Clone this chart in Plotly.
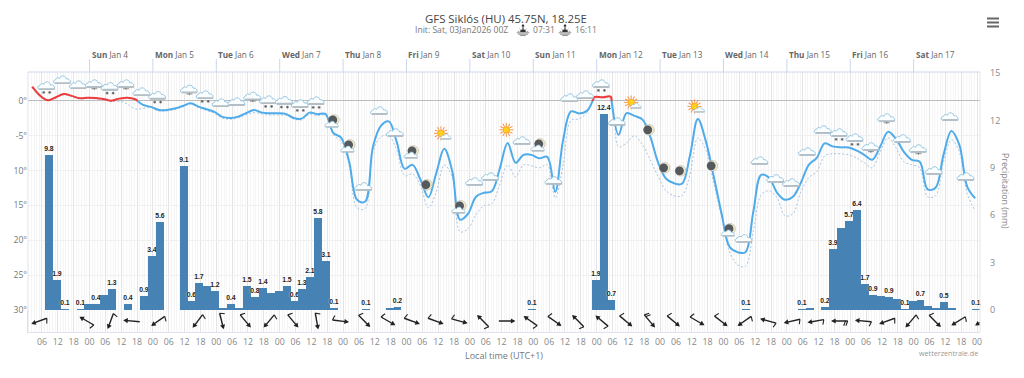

from urllib.parse import quote
import pandas as pd
import plotly.graph_objects as go

TITLE = "GFS Siklós (HU) 45.75N, 18.25E"
INIT_TEXT = "Init: Sat, 03Jan2026 00Z"
SUNRISE = "07:31"
SUNSET = "16:11"
DAY_TICKS = ["2026-01-%02d" % d for d in range(4, 18)]
DAY_NAMES = ["Sun", "Mon", "Tue", "Wed", "Thu", "Fri", "Sat", "Sun", "Mon", "Tue", "Wed", "Thu", "Fri", "Sat"]

temperature = [2.05,.76,.1,.53,1.0,.72,.39,.47,.43,.29,.04,.33,.47,.24,
 -.57,-.86,-1.29,-1.29,-1.1,-.72,-.33,-.82,-1.19,-1.58,-2.29,-2.44,-2.25,-1.76,-1.29,-1.68,-1.76,-1.76,-1.86,-2.44,-2.54,-1.68,-1.9,-1.86,
 -4.58,-5.3,-8.74,-14.18,-14.47,-6.59,-3.58,-2.94,-5.87,-9.74,-9.17,-11.32,-13.83,-10.32,-6.88,-10.03,-17.05,-16.19,-13.75,-13.18,-12.97,-9.74,-6.02,-8.88,-7.74,-7.74,-8.24,-8.02,-13.04,-5.59,
 -1.5,-1.79,-1.43,.57,.53,.62,-4.87,-1.76,-2.15,-2.65,-5.16,-8.88,-11.17,-11.82,-11.89,-7.88,-2.58,-5.73,-10.82,-16.19,-20.92,-21.7,-21.7,-15.9,-10.6,-11.03,
 -13.18,-14.18,-13.75,-11.75,-9.17,-8.17,-6.09,-6.52,-6.66,-6.69,-7.09,-7.74,-8.45,-6.59,-4.44,-5.44,-7.31,-8.45,-8.74,-12.68,-12.46,-7.74,-4.3,-6.3,-12.32,-13.97]

dew_point = [1.9,.64,.03,.43,.89,.6,.29,.33,.29,.14,-.07,-.07,-.43,-1.15,-1.07,-.93,-1.43,-1.43,-1.22,-.86,-.43,-1,-1.36,-1.79,-2.48,-2.62,-2.44,-2.01,-1.68,-1.86,-2.01,-2.01,-2.08,-2.58,-2.72,-1.93,-2.08,-2.08,
 -4.87,-5.87,-9.17,-15.33,-15.47,-7.31,-5.16,-5.01,-7.02,-10.74,-10.46,-12.18,-15.33,-13.04,-9.17,-10.89,-18.77,-18.34,-16.33,-15.04,-14.76,-12.03,-9.17,-10.89,-9.17,-9.31,-9.6,-9.17,-13.9,-9.17,
 -2.79,-2.58,-1.72,.29,.43,.29,-6.59,-6.02,-5.01,-6.3,-8.45,-10.89,-12.89,-13.61,-13.61,-10.6,-5.3,-7.02,-11.75,-16.62,-21.63,-23.5,-23.74,-18.77,-13.47,-12.89,
 -13.9,-16.48,-16.19,-13.04,-11.03,-10.17,-7.88,-7.59,-7.59,-7.74,-8.17,-8.88,-9.6,-7.31,-5.3,-6.73,-8.74,-9.17,-9.6,-13.75,-13.61,-8.74,-5.59,-7.31,-13.32,-15.76]

precip = [9.8,1.9,.05,0,.05,.35,.4,.95,1.3,0,.35,0,.9,3.4,5.6,0,0,9.1,.6,1.7,1.5,1.2,.1,.4,.1,1.5,.8,1.4,1.1,1.2,1.5,.6,1.3,2.1,5.8,3.1,.1,
 0,0,0,.05,0,0,.1,.2,0,0,0,0,0,0,0,0,0,0,0,0,0,0,0,0,.05,0,0,0,0,0,0,0,1.9,12.4,.65,
 0,0,0,0,0,0,0,0,0,0,0,0,0,0,0,0,.05,0,0,0,0,0,0,.05,.1,0,.2,3.85,5.2,5.65,6.35,1.67,.93,.9,.85,.7,.05,.55,.65,.25,.15,.5,.1,0,0,.05]
precip_labels = ["9.8","1.9","0.1","","0.1","","0.4","","1.3","","0.4","","0.9","3.4","5.6","","","9.1","0.6","1.7","","1.2","","0.4","","1.5","0.8","1.4","","","1.5","0.6","1.3","2.1","5.8","3.1","0.1",
 "","","","0.1","","","","0.2","","","","","","","","","","","","","","","","","0.1","","","","","","","","1.9","12.4","0.7",
 "","","","","","","","","","","","","","","","","0.1","","","","","","","0.1","","","0.2","3.9","","5.7","6.4","1.7","0.9","","0.9","","0.1","","0.7","","","0.5","","","","0.1"]

icon_kinds = ["snow","cloud","cloud","light","snow","light","cloud","snow",None,"light","snow","cloud","cloud","light","snow","snow","snow","snow",
 "mooncloud","mooncloud","cloud","cloud","cloud","mooncloud","moon","suncloud","mooncloud","cloud","cloud","sun","cloud","mooncloud","cloud","cloud","cloud","snow","cloud","suncloud",
 "moon","moon","moon","suncloud","moon","mooncloud","cloud","cloud","cloud","cloud","cloud","cloud","snow","snow","light","light","cloud","light","cloud","cloud","cloud"]
icon_levels = [2.15,3.0,2.29,2.44,2.05,2.44,1.29,.76,None,1.68,.86,-.29,-.14,.67,.14,.04,-.43,0,
 -3.3,-6.88,-12.32,-1.43,-4.58,-7.74,-12.03,-4.87,-15.62,-11.6,-10.89,-4.15,-5.73,-6.73,-11.46,.43,.86,2.44,-3.0,-.43,
 -4.15,-9.6,-10.03,-1.0,-9.31,-18.91,-19.77,-8.6,-11.17,-11.75,-7.31,-4.15,-4.58,-5.3,-6.59,-2.44,-5.44,-6.88,-10.03,-2.29,-10.89]

wind_hours = [-19, -1, 8, 16, 26] + list(range(41, 339, 9))
wind_heading = [250,300,200,275,235,217,166,140,220,140,170,97,135,120,110,110,105,315,90,305,125,315,310,130,140,130,120,128,235,285,257,260,270,275,250,220,135,238,238]
wind_barbs = [1,1,1,0,1,1,1,1,1,1,1,1,1,1,1,1,1,1,0,1,1,1,1,1,2,1,1,1,1,1,1,1,2,1,1,1,1,1,1]

W, H = 1024, 378
ML, MR, MT, MB = 28, 44, 72, 46
PLOT_W = W - ML - MR
PLOT_H = H - MT - MB
STRIP_PX = 22
X0 = pd.Timestamp("2026-01-03 00:43")
X1 = pd.Timestamp("2026-01-18 01:07")
TEMP_TOP = 4.15
TEMP_BOTTOM = -30
PRECIP_TOP = 15.06
HOUR_PX = PLOT_W / ((X1 - X0).total_seconds() / 3600)
TEMP_PX = (PLOT_H - STRIP_PX) / (TEMP_TOP - TEMP_BOTTOM)

FONT = "Open Sans"
BLUE = "#4fabe9"
RED = "#ee3b3b"
DEW = "#a9c4e0"
BAR = "#4682b4"

temp_times = pd.date_range("2026-01-03 02:18", periods=len(temperature), freq="3h")
bar_times = pd.date_range("2026-01-03 08:36", periods=len(precip), freq="3h")
icon_times = pd.date_range("2026-01-03 07:48", periods=len(icon_kinds), freq="6h")


def cloud(cx, cy, s=1.0):
    return (f'<g transform="translate({cx} {cy}) scale({s})">'
            '<path d="M-7.5 3.4 C-9.5 3.2 -9.5 -0.2 -6.8 -0.4 C-6.6 -2.4 -3.8 -2.8 -2.8 -1.6 '
            'C-2 -5 3.2 -5 3.8 -1 C6 -1.6 8.6 0.2 7.6 3.4 Z" fill="#fbfeff" stroke="#8cc0dc" stroke-width="0.9"/>'
            '<rect x="-7.8" y="2.2" width="15.6" height="1.8" rx="0.9" fill="#b4bec4"/></g>')


def flakes(points):
    out = ""
    for x, y in points:
        out += (f'<path d="M{x-1.4} {y}H{x+1.4}M{x} {y-1.4}V{y+1.4}M{x-1} {y-1}L{x+1} {y+1}M{x-1} {y+1}L{x+1} {y-1}" '
                'stroke="#555" stroke-width="0.7"/>')
    return out


def moon(cx, cy):
    return (f'<circle cx="{cx}" cy="{cy}" r="5.3" fill="#efe9c8" stroke="#aaa" stroke-width="0.5"/>'
            f'<circle cx="{cx-1.2}" cy="{cy}" r="4.4" fill="#55585c"/>')


def sun(cx, cy, r=7.0):
    rays = "".join(
        f'<line x1="{cx}" y1="{cy-r*0.55}" x2="{cx}" y2="{cy-r}" stroke="#f58a3c" stroke-width="0.9" '
        f'transform="rotate({a} {cx} {cy})"/>' for a in range(0, 360, 30))
    return rays + f'<circle cx="{cx}" cy="{cy}" r="{r*0.48}" fill="#ffd21a" stroke="#f7902f" stroke-width="0.8"/>'


def icon_svg(kind):
    c = 14
    body = {
        "cloud": cloud(c, c),
        "light": cloud(c, c) + f'<path d="M{c-3} {c+4.8}H{c+3}M{c} {c+4}V{c+6}" stroke="#666" stroke-width="0.7"/>',
        "snow": cloud(c, c) + flakes([(c - 3, c + 6.5), (c + 3, c + 6.5)]),
        "moon": moon(c, c),
        "mooncloud": moon(c + 2, c - 4) + cloud(c, c + 0.5, 0.8),
        "sun": sun(c, c),
        "suncloud": sun(c - 2, c - 1.5) + cloud(c + 3, c + 2, 0.65),
    }[kind]
    return ('data:image/svg+xml,' + quote(
        f'<svg xmlns="http://www.w3.org/2000/svg" width="28" height="28" viewBox="0 0 28 28">{body}</svg>'))


def barb_svg(heading, barbs):
    c = 14
    parts = ['<line x1="14" y1="22" x2="14" y2="7" stroke="#222" stroke-width="1.4"/>',
             '<path d="M14 5.4 L16.6 10 L11.4 10 Z" fill="#222"/>']
    for n in range(barbs):
        y = 22 - 2.2 * n
        parts.append(f'<line x1="14" y1="{y}" x2="9.2" y2="{y-1.8}" stroke="#222" stroke-width="1.1"/>')
    return ('data:image/svg+xml,' + quote(
        f'<svg xmlns="http://www.w3.org/2000/svg" width="28" height="28" viewBox="0 0 28 28">'
        f'<g transform="rotate({heading} {c} {c})">{"".join(parts)}</g></svg>'))


def horizon_svg():
    body = ('<path d="M6 12 A4 4 0 0 1 14 12 Z" fill="#333"/>'
            '<path d="M1 13H19M3 15H17M6 17H14" stroke="#333" stroke-width="0.8"/>'
            '<path d="M2.5 10.5L5 11.5M17.5 10.5L15 11.5M5 7.5L7 9.3M15 7.5L13 9.3" stroke="#333" stroke-width="0.7"/>'
            '<path d="M10 2V8" stroke="#222" stroke-width="1.4"/><path d="M7.6 3.8L10 0.6L12.4 3.8Z" fill="#222"/>')
    return ('data:image/svg+xml,' + quote(
        f'<svg xmlns="http://www.w3.org/2000/svg" width="20" height="18" viewBox="0 0 20 18">{body}</svg>'))


def split_segments(times, values):
    """Cut the series at the freezing level so that each part takes its own colour."""
    segments = []
    cur_t, cur_v = [times[0]], [values[0]]
    for k in range(1, len(values)):
        a, b = values[k - 1], values[k]
        if a * b < 0:
            t = times[k - 1] + (times[k] - times[k - 1]) * (a / (a - b))
            cur_t.append(t)
            cur_v.append(0)
            segments.append((cur_t, cur_v, a > 0))
            cur_t, cur_v = [t], [0]
        cur_t.append(times[k])
        cur_v.append(b)
    segments.append((cur_t, cur_v, cur_v[-1] > 0))
    return segments


fig = go.Figure()

fig.add_trace(go.Bar(
    x=bar_times, y=precip, width=3 * 3600 * 1000, xaxis="x", yaxis="y",
    marker=dict(color=BAR, line=dict(width=0)),
    text=precip_labels, textposition="outside", cliponaxis=False, constraintext="none", textangle=0,
    textfont=dict(family="Liberation Sans", size=6.8, color="#222", weight="bold", shadow="0 0 2px #fff"),
    hoverinfo="y", showlegend=False))

fig.add_trace(go.Scatter(
    x=temp_times, y=dew_point, xaxis="x", yaxis="y2", mode="lines",
    line=dict(color=DEW, width=1, dash="2px,2px", shape="spline", smoothing=1.0), showlegend=False))

for seg_t, seg_v, warm in split_segments(list(temp_times), temperature):
    fig.add_trace(go.Scatter(
        x=seg_t, y=seg_v, xaxis="x", yaxis="y2", mode="lines",
        line=dict(color=RED if warm else BLUE, width=2, shape="spline", smoothing=1.0), showlegend=False))

fig.add_trace(go.Scatter(x=[X0], y=[None], xaxis="x", yaxis="y3", mode="lines", showlegend=False, hoverinfo="skip"))

images = []
icon_w = 28 / HOUR_PX * 3600 * 1000
icon_h = 28 / TEMP_PX
for t, kind, level in zip(icon_times, icon_kinds, icon_levels):
    if kind is None:
        continue
    images.append(dict(source=icon_svg(kind), xref="x", yref="y2", x=t, y=level, sizex=icon_w, sizey=icon_h,
                       xanchor="center", yanchor="middle", sizing="contain", layer="above"))

for h, heading, barbs in zip(wind_hours, wind_heading, wind_barbs):
    t = pd.Timestamp("2026-01-04") + pd.Timedelta(hours=h)
    images.append(dict(source=barb_svg(heading, barbs), xref="x", yref="y3", x=t, y=0.5,
                       sizex=icon_w, sizey=28 / STRIP_PX,
                       xanchor="center", yanchor="middle", sizing="contain", layer="above"))

for px in (523, 565):
    images.append(dict(source=horizon_svg(), xref="paper", yref="paper",
                       x=(px - ML) / PLOT_W, y=1 + (MT - 30) / PLOT_H,
                       sizex=14 / PLOT_W, sizey=13 / PLOT_H, xanchor="center", yanchor="middle",
                       sizing="contain", layer="above"))

shapes = []
annotations = []
for day, name in zip(DAY_TICKS, DAY_NAMES):
    shapes.append(dict(type="line", xref="x", yref="paper", x0=day, x1=day, y0=1, y1=1 + 13 / PLOT_H,
                       line=dict(color="#ccd6eb", width=1)))
    stamp = pd.Timestamp(day)
    annotations.append(dict(xref="x", yref="paper", x=day, y=1 + 18 / PLOT_H, xanchor="left", yanchor="middle",
                            xshift=0, showarrow=False,
                            text=f"<b>{name}</b> Jan {stamp.day}",
                            font=dict(family=FONT, size=8.2, color="#666")))

shapes.append(dict(type="line", xref="paper", yref="paper", x0=0, x1=1, y0=1, y1=1, line=dict(color="#ccd6eb", width=1)))
shapes.append(dict(type="line", xref="paper", yref="paper", x0=1, x1=1, y0=0, y1=1, line=dict(color="#e6e6e6", width=1)))
shapes.append(dict(type="line", xref="paper", yref="paper", x0=0, x1=0, y0=0, y1=1, line=dict(color="#dfe3ee", width=1)))
for row in (18.5, 22.5, 26.5):
    shapes.append(dict(type="line", xref="paper", yref="paper", x0=(987 - ML) / PLOT_W, x1=(999 - ML) / PLOT_W,
                       y0=1 + (MT - row) / PLOT_H, y1=1 + (MT - row) / PLOT_H, line=dict(color="#666", width=2)))

annotations += [
    dict(xref="paper", yref="paper", x=(506 - ML) / PLOT_W, y=1 + (MT - 18.5) / PLOT_H, xanchor="center", yanchor="middle",
         showarrow=False, text=TITLE, font=dict(family=FONT, size=11.4, color="#444")),
    dict(xref="paper", yref="paper", x=(413 - ML) / PLOT_W, y=1 + (MT - 30) / PLOT_H, xanchor="left", yanchor="middle",
         showarrow=False, text=INIT_TEXT, font=dict(family=FONT, size=8.6, color="#777")),
    dict(xref="paper", yref="paper", x=(531 - ML) / PLOT_W, y=1 + (MT - 30) / PLOT_H, xanchor="left", yanchor="middle",
         showarrow=False, text=SUNRISE, font=dict(family=FONT, size=8.6, color="#777")),
    dict(xref="paper", yref="paper", x=(573 - ML) / PLOT_W, y=1 + (MT - 30) / PLOT_H, xanchor="left", yanchor="middle",
         showarrow=False, text=SUNSET, font=dict(family=FONT, size=8.6, color="#777")),
    dict(xref="paper", yref="paper", x=(504 - ML) / PLOT_W, y=1 + (MT - 355) / PLOT_H, xanchor="center", yanchor="middle",
         showarrow=False, text="Local time (UTC+1)", font=dict(family=FONT, size=9, color="#777")),
    dict(xref="paper", yref="paper", x=1, y=1 + (MT - 353) / PLOT_H, xanchor="right", yanchor="middle",
         showarrow=False, text="wetterzentrale.de", font=dict(family=FONT, size=7.2, color="#999")),
    dict(xref="paper", yref="paper", x=(1005 - ML) / PLOT_W, y=1 + (MT - 191) / PLOT_H, xanchor="center", yanchor="middle",
         showarrow=False, textangle=90, text="Precipitation (mm)", font=dict(family=FONT, size=8.8, color="#888")),
]

strip = STRIP_PX / PLOT_H
fig.update_layout(
    width=W, height=H, autosize=False,
    margin=dict(l=ML, r=MR, t=MT, b=MB, pad=0),
    paper_bgcolor="white", plot_bgcolor="white",
    barmode="overlay", bargap=0, showlegend=False, hovermode="x",
    images=images, shapes=shapes, annotations=annotations,
    xaxis=dict(type="date", range=[X0, X1], anchor="y3", side="bottom", tickformat="%H",
               tick0="2026-01-03 00:00", dtick=6 * 3600 * 1000,
               showgrid=True, gridcolor="#e4e4e4", gridwidth=1, ticks="", showline=True, linecolor="#dfe3ee",
               minor=dict(dtick=3600 * 1000, tick0="2026-01-03 00:00", showgrid=True, gridcolor="#f5f5f5", gridwidth=1),
               tickfont=dict(family=FONT, size=8.8, color="#888"), ticklabelstandoff=1),
    yaxis=dict(domain=[strip, 1], range=[0, PRECIP_TOP], side="right", anchor="x", tickvals=[0, 3, 6, 9, 12, 15],
               showgrid=False, zeroline=False, showline=False, ticks="", ticklabelstandoff=9,
               tickfont=dict(family=FONT, size=9, color="#888")),
    yaxis2=dict(domain=[strip, 1], range=[TEMP_BOTTOM, TEMP_TOP], overlaying="y", side="left", anchor="x",
                tickvals=[0, -5, -10, -15, -20, -25, -30],
                ticktext=["0°", "-5°", "10°", "15°", "20°", "25°", "30°"],
                showgrid=True, gridcolor="#f0f0f0", gridwidth=1,
                zeroline=True, zerolinecolor="#bdbdbd", zerolinewidth=1, showline=False, ticks="",
                tickfont=dict(family=FONT, size=8.6, color="#777")),
    yaxis3=dict(domain=[0, strip], range=[0, 1], anchor="x", showticklabels=False, showgrid=False,
                zeroline=False, showline=True, linecolor="#dcdcdc", ticks=""),
)

fig.write_html("out.html", config={"displayModeBar": False},
               post_script="document.body.style.margin='0';document.body.style.overflow='hidden';")
